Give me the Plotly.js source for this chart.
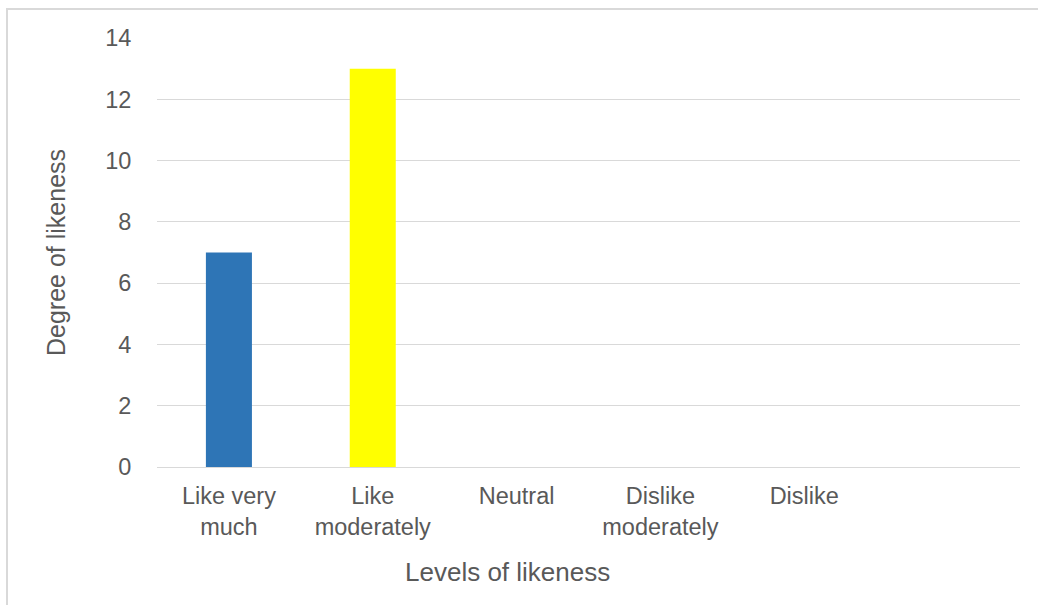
<!DOCTYPE html>
<html>
<head>
<meta charset="utf-8">
<script src="https://cdn.plot.ly/plotly-3.0.1.min.js"></script>
<style>html,body{margin:0;padding:0;background:#fff;}#chart{width:1038px;height:605px;}</style>
</head>
<body>
<div id="chart"></div>
<script>
const categories = ["Like very<br>much", "Like<br>moderately", "Neutral", "Dislike<br>moderately", "Dislike", " "];
const values = [7, 13, 0, 0, 0, 0];
const barColors = ["#2e75b6", "#ffff00", "#2e75b6", "#2e75b6", "#2e75b6", "#2e75b6"];
const yTicks = [0, 2, 4, 6, 8, 10, 12, 14];
const xTitle = "Levels of likeness";
const yTitle = "Degree of likeness";

const W = 1038, H = 605, ml = 157, mr = 18, mt = 38, mb = 138;
const pw = W - ml - mr, ph = H - mt - mb;
const px = v => (v - ml) / pw;
const py = v => 1 - (v - mt) / ph;

Plotly.newPlot('chart', [{
  type: 'bar',
  x: categories,
  y: values,
  width: 0.32,
  marker: {color: barColors},
  hoverinfo: 'none'
}], {
  width: W, height: H,
  margin: {l: ml, r: mr, t: mt, b: mb},
  paper_bgcolor: '#fff', plot_bgcolor: '#fff',
  font: {family: 'Liberation Sans, Arial, sans-serif', color: '#595959', size: 23},
  showlegend: false,
  xaxis: {
    type: 'category',
    showgrid: false, zeroline: false, showline: false,
    ticks: 'outside', ticklen: 8, tickcolor: 'rgba(0,0,0,0)',
    tickfont: {size: 23.5, color: '#595959'},
    automargin: false
  },
  yaxis: {
    range: [0, 14], tickvals: yTicks, ticktext: yTicks.map(String),
    showgrid: true, gridcolor: '#d9d9d9', gridwidth: 1,
    zeroline: true, zerolinecolor: '#d9d9d9', zerolinewidth: 1,
    showline: false,
    ticks: 'outside', ticklen: 20, tickcolor: 'rgba(0,0,0,0)',
    tickfont: {size: 23.5, color: '#595959'},
    title: {text: yTitle, font: {size: 25, color: '#595959'}, standoff: 32},
    automargin: false
  },
  annotations: [{
    text: xTitle, xref: 'paper', yref: 'paper',
    x: px(507), y: py(572), xanchor: 'center', yanchor: 'middle',
    showarrow: false, font: {size: 26, color: '#595959'}
  }],
  shapes: [{
    type: 'rect', xref: 'paper', yref: 'paper',
    x0: px(7), x1: px(1060), y0: py(630), y1: py(9),
    line: {color: '#d9d9d9', width: 2}, fillcolor: 'rgba(0,0,0,0)', layer: 'below'
  }]
}, {displayModeBar: false, staticPlot: true});
</script>
</body>
</html>
